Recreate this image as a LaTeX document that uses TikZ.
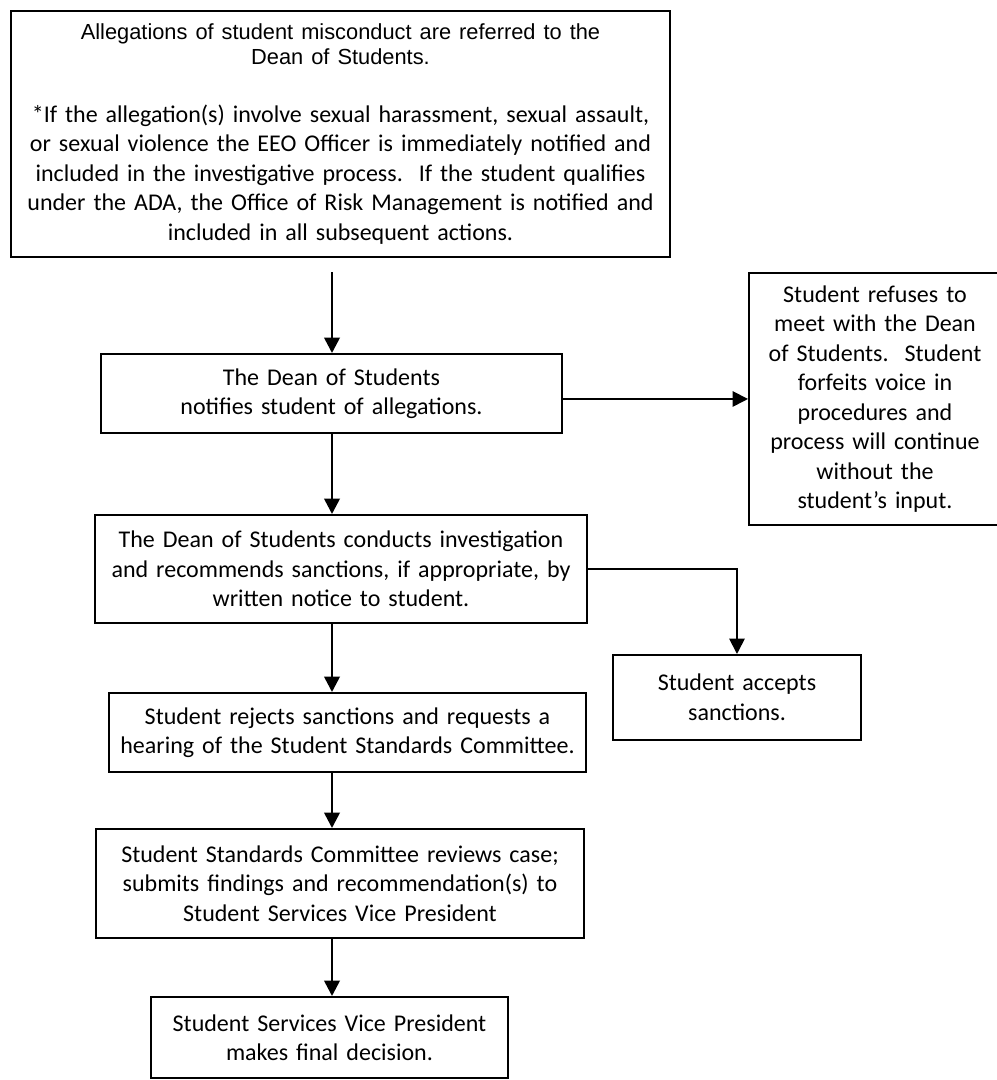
\documentclass[tikz,border=0pt]{standalone}
\usepackage{fontspec}
\setmainfont{Carlito}
\newfontfamily\arialfont{Liberation Sans}
\usepackage{tikz}
\usetikzlibrary{arrows.meta,positioning}
\newcommand{\px}{0.4583pt}

\begin{document}
\begin{tikzpicture}[
    x=\px, y=-\px,
    caixa/.style 2 args={draw,line width=0.9pt,anchor=north west,inner sep=0pt,
      minimum width=#1*\px,minimum height=#2*\px,text width=(#1-8)*\px,
    align=center,font=\fontsize{11}{13.5}\selectfont},
    seta/.style={-{Triangle[length=7pt,width=7pt]},line width=#1},
    seta/.default=1.2pt
    ]
    \useasboundingbox (0,0) rectangle (996,1080);

    \node[caixa={659}{246}] (alleg) at (10,10) {%
      {\arialfont\fontsize{10}{11.5}\selectfont Allegations of student misconduct are referred to the\\ Dean of Students.\par}
      \vspace{12.8pt}
      *If the allegation(s) involve sexual harassment, sexual assault,\\
      or sexual violence the EEO Officer is immediately notified and\\
      included in the investigative process.\ \ If the student qualifies\\
      under the ADA, the Office of Risk Management is notified and\\
      included in all subsequent actions.};
    \node[caixa={461}{79}]  (notify) at (100,353) {The Dean of Students\\ notifies student of allegations.};
    \node[caixa={492}{108}] (invest) at (94,514)  {The Dean of Students conducts investigation\\ and recommends sanctions, if appropriate, by\\ written notice to student.};
    \node[caixa={477}{79}]  (reject) at (108,692) {Student rejects sanctions and requests a\\ hearing of the Student Standards Committee.};
    \node[caixa={488}{109}] (review) at (95,828)  {Student Standards Committee reviews case;\\ submits findings and recommendation(s) to\\ Student Services Vice President};
    \node[caixa={357}{81}]  (decide) at (150,996) {Student Services Vice President\\ makes final decision.};

    % side branches
    \node[caixa={252}{252}] (refuse) at (748,272) {Student refuses to\\ meet with the Dean\\ of Students.\ \ Student\\ forfeits voice in\\ procedures and\\ process will continue\\ without the\\ student’s input.};
    \node[caixa={248}{85}]  (accept) at (612,654) {Student accepts\\ sanctions.};

    % arrows
    \coordinate (col) at (332,272);
    \draw[seta] (col) -- (col |- notify.north);
    \draw[seta] (notify.south -| col) -- (invest.north -| col);
    \draw[seta] (invest.south -| col) -- (reject.north -| col);
    \draw[seta] (reject.south -| col) -- (review.north -| col);
    \draw[seta] (review.south -| col) -- (decide.north -| col);
    \draw[seta=0.8pt] (refuse.west -| notify.east) -- (refuse.west);
    \draw[seta=0.8pt] (invest.east) -| (accept.north);
  \end{tikzpicture}
\end{document}
